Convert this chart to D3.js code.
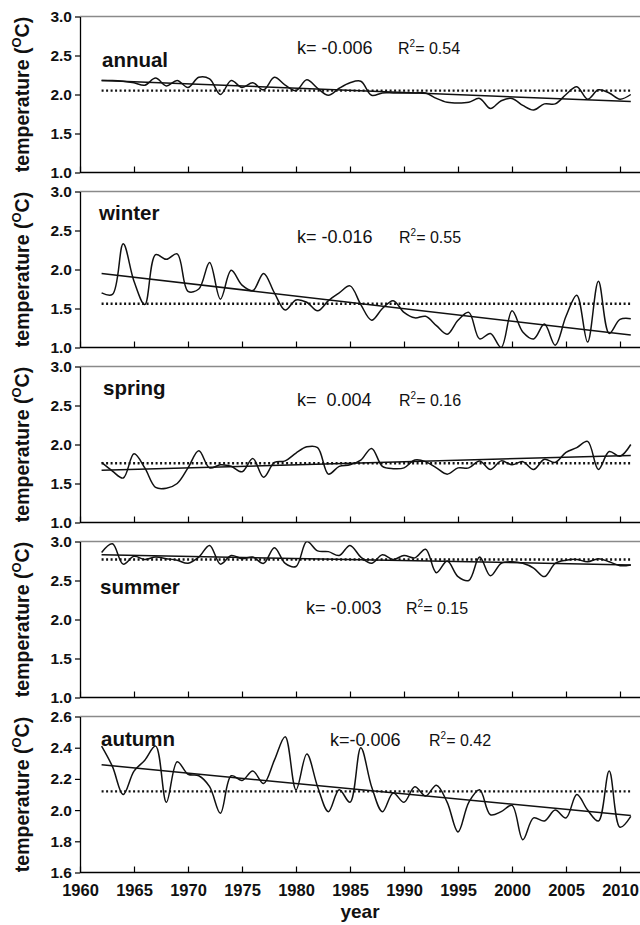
<!DOCTYPE html>
<html lang="en">
<head>
<meta charset="UTF-8">
<script src="https://cdn.jsdelivr.net/npm/d3@7"></script>
<title>seasonal temperature</title>
<style>
    body { margin: 0; background: #fff; }
    svg { display: block; font-family: "Liberation Sans", Arial, sans-serif; }
</style>
</head>
<body>
<div id="app"></div>
<script>
    const years = d3.range(1962, 2012);

    const annual = [2.18, 2.18, 2.17, 2.15, 2.12, 2.21, 2.11, 2.18, 2.09, 2.22,
        2.20, 2.00, 2.18, 2.09, 2.15, 2.06, 2.22, 2.12, 2.05, 2.19,
        2.08, 1.99, 2.08, 2.15, 2.17, 1.99, 2.02, 2.02, 2.02, 2.02,
        2.02, 1.95, 1.90, 1.89, 1.90, 1.95, 1.82, 1.92, 1.95, 1.86,
        1.80, 1.88, 1.88, 2.00, 2.10, 1.94, 2.06, 2.02, 1.94, 2.00];
    const winter = [1.70, 1.68, 2.33, 1.85, 1.55, 2.19, 2.13, 2.20, 1.72, 1.75,
        2.09, 1.62, 1.99, 1.80, 1.73, 1.95, 1.70, 1.48, 1.61, 1.58,
        1.47, 1.60, 1.70, 1.79, 1.55, 1.35, 1.50, 1.60, 1.45, 1.38,
        1.40, 1.28, 1.17, 1.35, 1.45, 1.11, 1.18, 1.00, 1.47, 1.20,
        1.11, 1.30, 1.03, 1.40, 1.67, 1.07, 1.85, 1.18, 1.36, 1.37];
    const spring = [1.77, 1.66, 1.57, 1.88, 1.70, 1.45, 1.44, 1.50, 1.70, 1.92,
        1.70, 1.74, 1.72, 1.65, 1.82, 1.58, 1.77, 1.79, 1.89, 1.97,
        1.96, 1.62, 1.72, 1.74, 1.80, 1.95, 1.72, 1.69, 1.70, 1.80,
        1.78, 1.70, 1.62, 1.70, 1.70, 1.79, 1.68, 1.79, 1.74, 1.78,
        1.68, 1.81, 1.77, 1.90, 1.96, 2.04, 1.68, 1.91, 1.85, 2.00];
    const summer = [2.86, 2.97, 2.71, 2.81, 2.77, 2.80, 2.78, 2.76, 2.72, 2.80,
        2.95, 2.71, 2.82, 2.78, 2.80, 2.72, 2.92, 2.72, 2.68, 3.00,
        2.88, 2.87, 2.82, 2.95, 2.80, 2.72, 2.83, 2.77, 2.82, 2.79,
        2.90, 2.60, 2.75, 2.55, 2.50, 2.80, 2.56, 2.72, 2.74, 2.72,
        2.66, 2.55, 2.72, 2.76, 2.77, 2.74, 2.78, 2.74, 2.69, 2.70];
    const autumn = [2.41, 2.28, 2.10, 2.25, 2.32, 2.41, 2.05, 2.31, 2.23, 2.22,
        2.15, 1.98, 2.22, 2.19, 2.25, 2.17, 2.32, 2.47, 2.13, 2.36,
        2.15, 1.99, 2.13, 2.05, 2.40, 2.15, 1.99, 2.11, 2.05, 2.15,
        2.09, 2.16, 2.05, 1.86, 2.05, 2.13, 1.97, 1.99, 2.03, 1.81,
        1.95, 1.93, 2.00, 1.95, 2.10, 2.00, 1.93, 2.25, 1.89, 1.96];

    const seasons = ['annual', 'winter', 'spring', 'summer', 'autumn'];
    const series = [annual, winter, spring, summer, autumn];
    const means = [2.05, 1.56, 1.76, 2.77, 2.12];
    const trendStart = [2.18, 1.95, 1.67, 2.83, 2.29];
    const trendEnd = [1.91, 1.16, 1.86, 2.70, 1.965];
    const slopes = ['k= -0.006', 'k= -0.016', 'k=  0.004', 'k= -0.003', 'k=-0.006'];
    const r2 = ['0.54', '0.55', '0.16', '0.15', '0.42'];
    const yDomains = [[1, 3], [1, 3], [1, 3], [1, 3], [1.6, 2.6]];
    const yTicks = [
        [1.0, 1.5, 2.0, 2.5, 3.0], [1.0, 1.5, 2.0, 2.5, 3.0], [1.0, 1.5, 2.0, 2.5, 3.0],
        [1.0, 1.5, 2.0, 2.5, 3.0], [1.6, 1.8, 2.0, 2.2, 2.4, 2.6]];
    const xTicks = [1960, 1965, 1970, 1975, 1980, 1985, 1990, 1995, 2000, 2005, 2010];

    // where the labels sit inside each panel (pixels from panel top)
    const nameX = [102, 99, 103, 100, 101];
    const nameY = [50, 28, 28, 52, 29];
    const kX = [297, 297, 297, 306, 330];
    const r2X = [398, 399, 399, 406, 429];
    const kY = [37, 51, 39, 72, 29];

    const svg_width = 640;
    const svg_height = 925;
    const left = 80;
    const panel_h = 156;
    const panel_top = 16.5;
    const panel_step = 175;

    const svg = d3.select('#app')
        .append('svg')
        .attr('width', svg_width)
        .attr('height', svg_height);

    const x = d3.scaleLinear().domain([1960, 2012]).range([left, left + 52 * 10.8]);

    seasons.forEach(function (name, i) {
        const top = panel_top + i * panel_step;
        const y = d3.scaleLinear().domain(yDomains[i]).range([top + panel_h, top]);
        const g = svg.append('g');

        g.append('clipPath').attr('id', 'clip' + i)
            .append('rect')
            .attr('x', left).attr('y', top)
            .attr('width', x.range()[1] - left).attr('height', panel_h);

        // frame: grey top, black bottom
        g.append('line')
            .attr('x1', left).attr('x2', svg_width)
            .attr('y1', top).attr('y2', top)
            .attr('stroke', '#8a8a8a').attr('stroke-width', 1.3);

        const xAxis = d3.axisBottom(x).tickValues(xTicks).tickSizeInner(-6).tickSizeOuter(0)
            .tickFormat(i === 4 ? d3.format('d') : '');
        const ax = g.append('g')
            .attr('transform', 'translate(0,' + (top + panel_h) + ')')
            .call(xAxis);
        ax.select('.domain').attr('d', 'M' + left + ',0H' + svg_width).attr('stroke-width', 1.3);
        ax.selectAll('.tick line').attr('stroke-width', 1.2);
        ax.selectAll('text')
            .attr('y', 12)
            .attr('font-size', 16.5).attr('font-weight', 'bold')
            .attr('font-family', '"Liberation Sans", Arial, sans-serif')
            .attr('fill', '#111');

        const yAxis = d3.axisLeft(y).tickValues(yTicks[i]).tickSize(5).tickSizeOuter(0)
            .tickFormat(d3.format('.1f'));
        const ay = g.append('g')
            .attr('transform', 'translate(' + left + ',0)')
            .call(yAxis);
        ay.select('.domain').attr('stroke-width', 1.3);
        ay.selectAll('.tick line').attr('stroke-width', 1.2);
        ay.selectAll('text')
            .attr('x', -8)
            .attr('font-size', 15.5).attr('font-weight', 'bold')
            .attr('font-family', '"Liberation Sans", Arial, sans-serif')
            .attr('fill', '#111');

        const plot = g.append('g').attr('clip-path', 'url(#clip' + i + ')');

        // long-term mean
        plot.append('line')
            .attr('x1', x(1962)).attr('x2', x(2011))
            .attr('y1', y(means[i])).attr('y2', y(means[i]))
            .attr('stroke', '#111').attr('stroke-width', 2.4)
            .attr('stroke-dasharray', '2,2.5');

        // linear trend
        plot.append('line')
            .attr('x1', x(1962)).attr('x2', x(2011))
            .attr('y1', y(trendStart[i])).attr('y2', y(trendEnd[i]))
            .attr('stroke', '#111').attr('stroke-width', 1.5);

        const line = d3.line()
            .x(function (d, j) { return x(years[j]); })
            .y(function (d) { return y(d); })
            .curve(d3.curveCatmullRom.alpha(0.5));

        plot.append('path')
            .datum(series[i])
            .attr('d', line)
            .attr('fill', 'none')
            .attr('stroke', '#111')
            .attr('stroke-width', 1.5);

        g.append('text')
            .attr('x', nameX[i]).attr('y', top + nameY[i])
            .attr('font-size', 20.5).attr('font-weight', 'bold')
            .attr('fill', '#111')
            .text(name);

        g.append('text')
            .attr('x', kX[i]).attr('y', top + kY[i])
            .attr('font-size', 18)
            .attr('fill', '#111')
            .attr('xml:space', 'preserve')
            .style('white-space', 'pre')
            .text(slopes[i]);

        const rt = g.append('text')
            .attr('x', r2X[i]).attr('y', top + kY[i])
            .attr('font-size', 16)
            .attr('font-family', '"Liberation Sans Narrow", "Arial Narrow", "Liberation Sans", sans-serif')
            .attr('fill', '#111');
        rt.append('tspan').text('R');
        rt.append('tspan').attr('dy', -7).attr('font-size', 10).text('2');
        rt.append('tspan').attr('dy', 7).text('= ' + r2[i]);

        // y title
        const yt = g.append('text')
            .attr('transform', 'translate(29,' + (top + panel_h / 2) + ') rotate(-90)')
            .attr('text-anchor', 'middle')
            .attr('font-size', 19.5).attr('font-weight', 'bold')
            .attr('fill', '#111');
        yt.append('tspan').text('temperature (');
        yt.append('tspan').attr('dy', -8).attr('font-size', 13).text('O');
        yt.append('tspan').attr('dy', 8).text('C)');
    });

    svg.append('text')
        .attr('x', (left + svg_width) / 2).attr('y', 918)
        .attr('text-anchor', 'middle')
        .attr('font-size', 19).attr('font-weight', 'bold')
        .attr('fill', '#111')
        .text('year');
</script>
</body>
</html>
